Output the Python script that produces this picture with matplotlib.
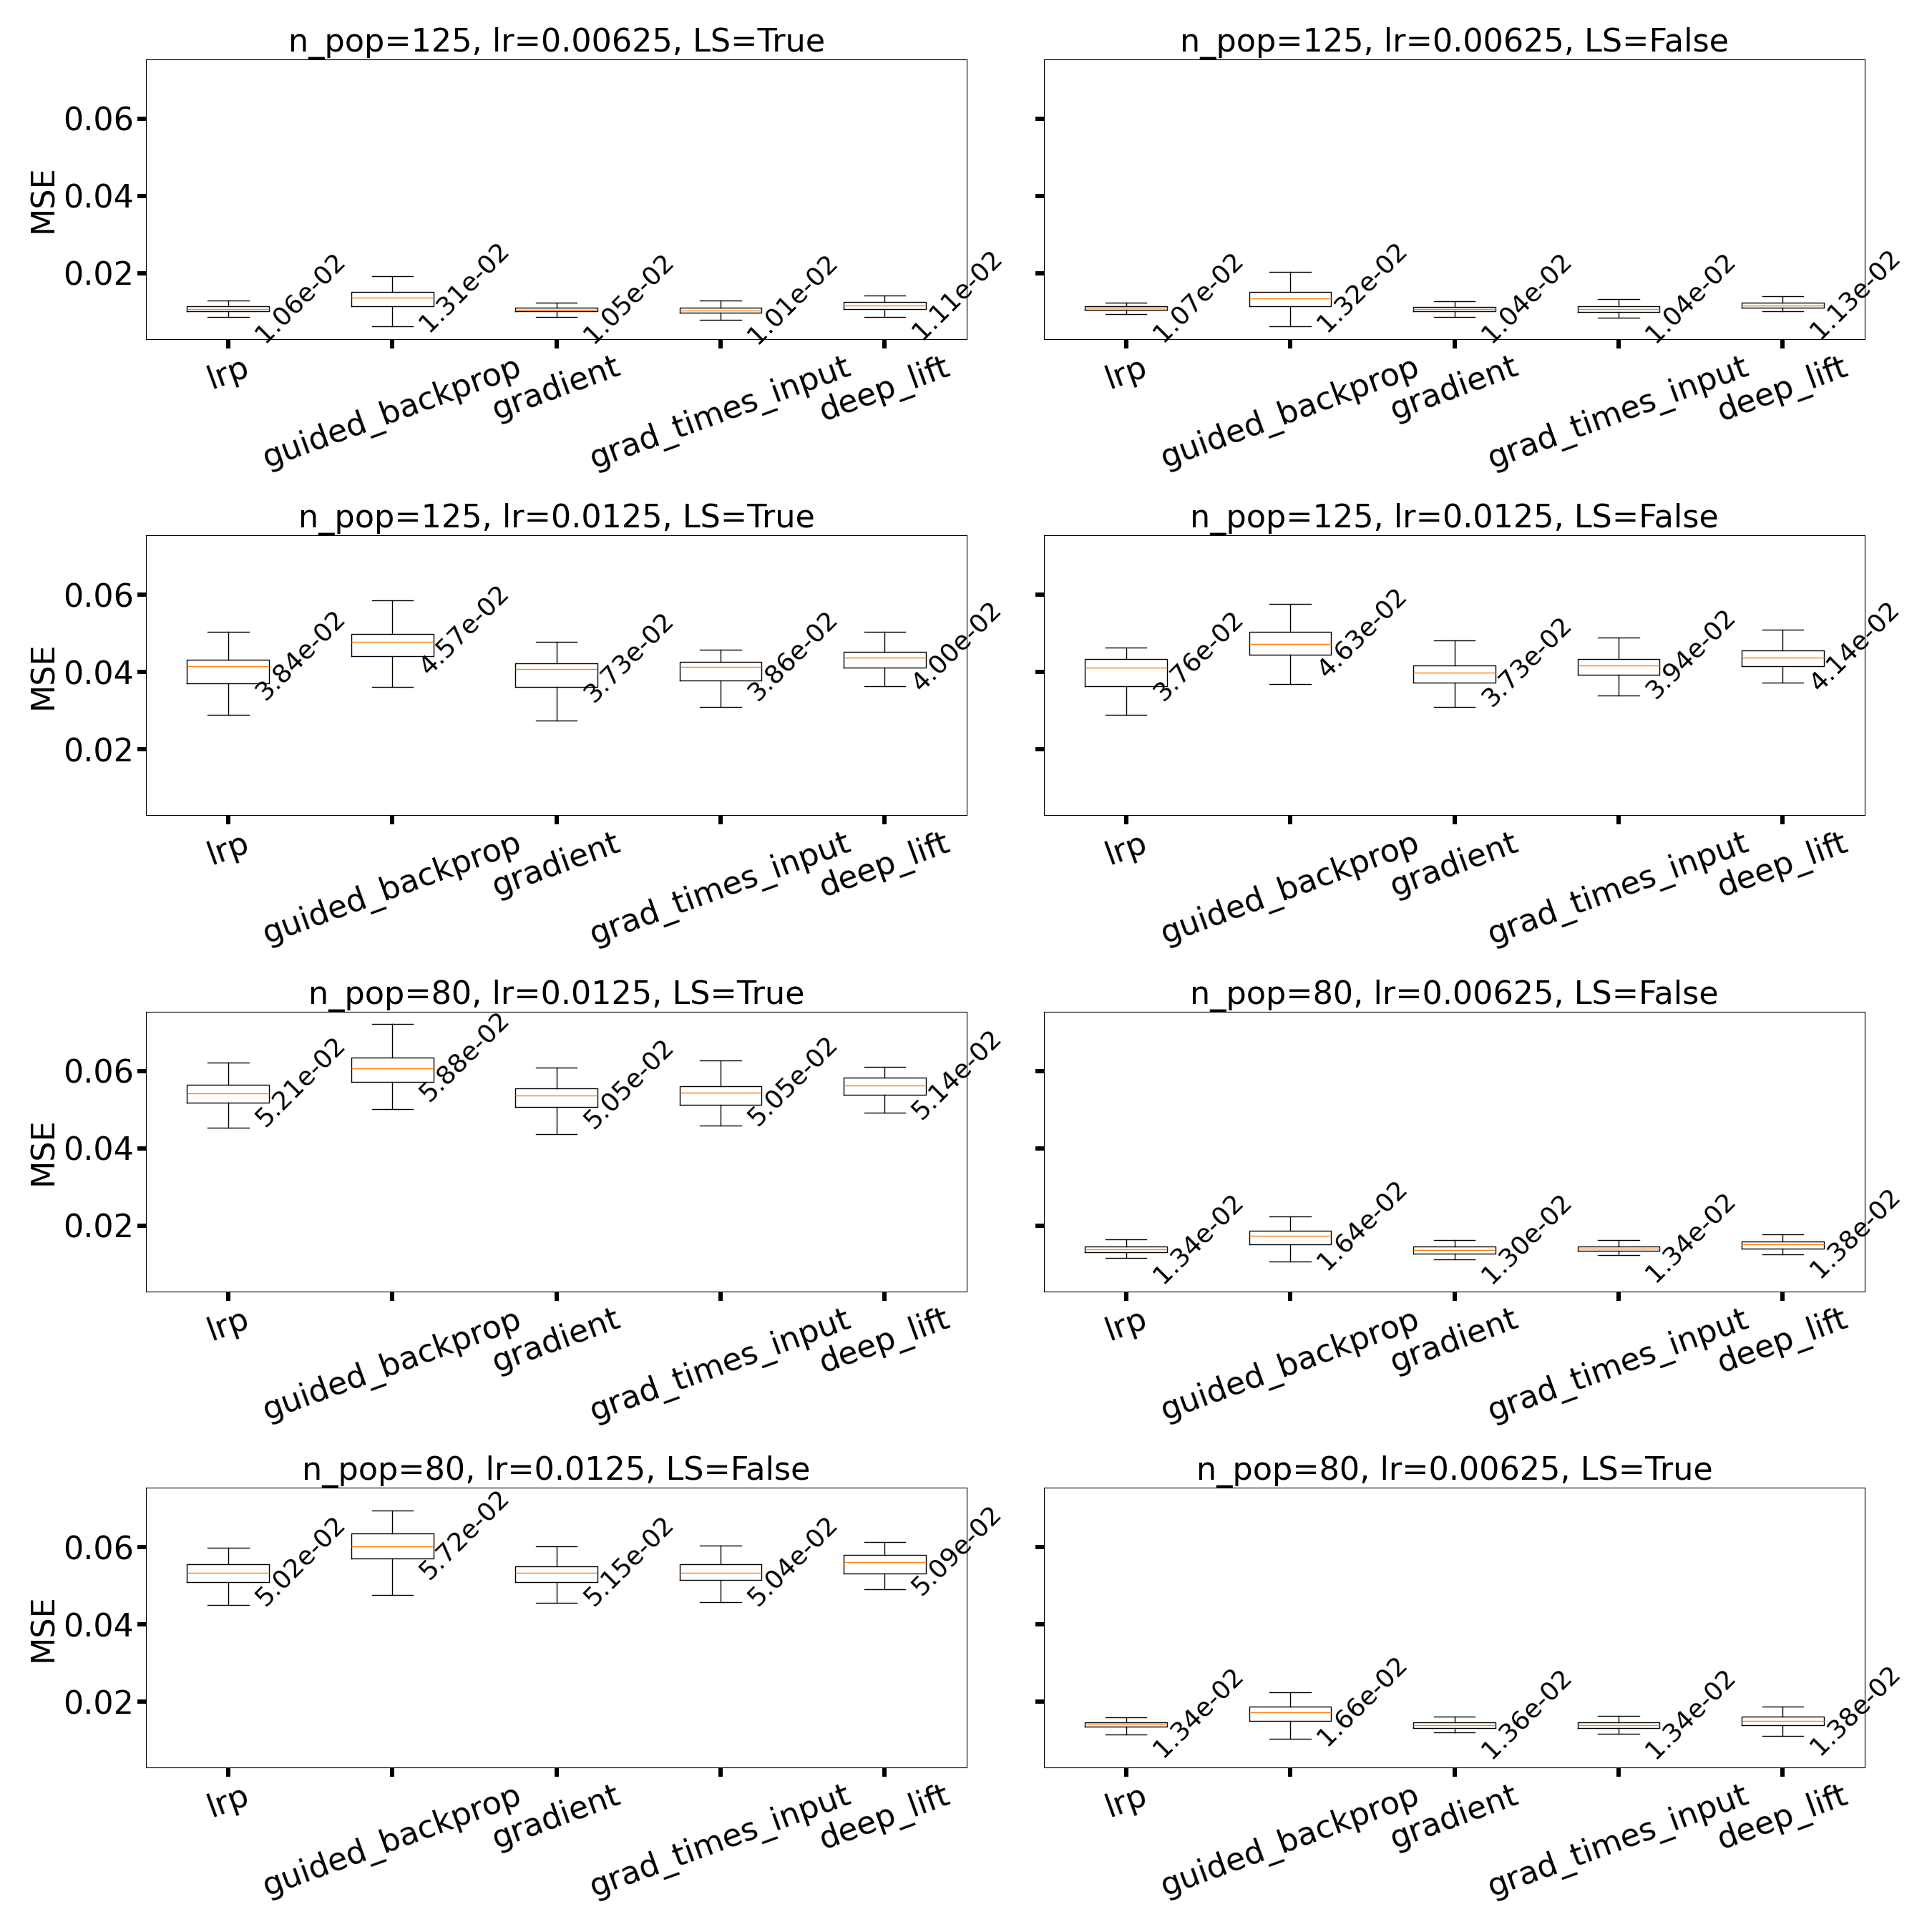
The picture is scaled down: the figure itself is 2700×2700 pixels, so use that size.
import matplotlib
matplotlib.use("Agg")
import matplotlib.pyplot as plt

methods = ["lrp", "guided_backprop", "gradient", "grad_times_input", "deep_lift"]

titles = [
    "n_pop=125, lr=0.00625, LS=True", "n_pop=125, lr=0.00625, LS=False",
    "n_pop=125, lr=0.0125, LS=True", "n_pop=125, lr=0.0125, LS=False",
    "n_pop=80, lr=0.0125, LS=True", "n_pop=80, lr=0.00625, LS=False",
    "n_pop=80, lr=0.0125, LS=False", "n_pop=80, lr=0.00625, LS=True",
]

# box stats per panel (rows: panels, cols: methods)
whis_hi = [
    [0.0130, 0.0193, 0.0124, 0.0130, 0.0142],
    [0.0123, 0.0204, 0.0128, 0.0133, 0.0140],
    [0.0505, 0.0586, 0.0479, 0.0458, 0.0505],
    [0.0463, 0.0576, 0.0481, 0.0490, 0.0509],
    [0.0621, 0.0721, 0.0609, 0.0627, 0.0611],
    [0.0165, 0.0224, 0.0162, 0.0162, 0.0178],
    [0.0599, 0.0695, 0.0602, 0.0603, 0.0613],
    [0.0159, 0.0224, 0.0161, 0.0164, 0.0187],
]
q3 = [
    [0.0114, 0.0151, 0.0111, 0.0111, 0.0125],
    [0.0114, 0.0152, 0.0113, 0.0114, 0.0123],
    [0.0432, 0.0499, 0.0422, 0.0426, 0.0452],
    [0.0433, 0.0505, 0.0418, 0.0433, 0.0456],
    [0.0565, 0.0634, 0.0555, 0.0560, 0.0582],
    [0.0145, 0.0187, 0.0145, 0.0145, 0.0158],
    [0.0556, 0.0635, 0.0550, 0.0556, 0.0580],
    [0.0146, 0.0188, 0.0146, 0.0146, 0.0161],
]
med = [
    [0.0107, 0.0136, 0.0106, 0.0104, 0.0116],
    [0.0110, 0.0135, 0.0108, 0.0108, 0.0117],
    [0.0415, 0.0478, 0.0408, 0.0413, 0.0437],
    [0.0412, 0.0472, 0.0398, 0.0417, 0.0437],
    [0.0542, 0.0607, 0.0537, 0.0544, 0.0562],
    [0.0138, 0.0173, 0.0137, 0.0141, 0.0152],
    [0.0534, 0.0602, 0.0534, 0.0534, 0.0561],
    [0.0143, 0.0173, 0.0140, 0.0140, 0.0150],
]
q1 = [
    [0.0101, 0.0114, 0.0101, 0.0097, 0.0107],
    [0.0106, 0.0115, 0.0102, 0.0100, 0.0111],
    [0.0371, 0.0441, 0.0361, 0.0378, 0.0411],
    [0.0363, 0.0445, 0.0372, 0.0393, 0.0415],
    [0.0518, 0.0572, 0.0507, 0.0513, 0.0539],
    [0.0131, 0.0152, 0.0128, 0.0134, 0.0141],
    [0.0510, 0.0570, 0.0510, 0.0515, 0.0532],
    [0.0135, 0.0150, 0.0132, 0.0132, 0.0140],
]
whis_lo = [
    [0.0087, 0.0063, 0.0087, 0.0079, 0.0086],
    [0.0094, 0.0063, 0.0086, 0.0084, 0.0101],
    [0.0290, 0.0361, 0.0275, 0.0310, 0.0363],
    [0.0290, 0.0369, 0.0310, 0.0340, 0.0373],
    [0.0454, 0.0501, 0.0437, 0.0459, 0.0492],
    [0.0117, 0.0107, 0.0113, 0.0124, 0.0125],
    [0.0451, 0.0477, 0.0455, 0.0458, 0.0491],
    [0.0115, 0.0105, 0.0121, 0.0117, 0.0111],
]
# annotated mean values
means = [
    [1.06e-02, 1.31e-02, 1.05e-02, 1.01e-02, 1.11e-02],
    [1.07e-02, 1.32e-02, 1.04e-02, 1.04e-02, 1.13e-02],
    [3.84e-02, 4.57e-02, 3.73e-02, 3.86e-02, 4.00e-02],
    [3.76e-02, 4.63e-02, 3.73e-02, 3.94e-02, 4.14e-02],
    [5.21e-02, 5.88e-02, 5.05e-02, 5.05e-02, 5.14e-02],
    [1.34e-02, 1.64e-02, 1.30e-02, 1.34e-02, 1.38e-02],
    [5.02e-02, 5.72e-02, 5.15e-02, 5.04e-02, 5.09e-02],
    [1.34e-02, 1.66e-02, 1.36e-02, 1.34e-02, 1.38e-02],
]

fig, axes = plt.subplots(4, 2, figsize=(27, 27), dpi=100, sharey=True)
fig.subplots_adjust(left=0.0756, right=0.9652, top=0.9694, bottom=0.0852,
                    wspace=0.094, hspace=0.702)

for k, ax in enumerate(axes.flat):
    stats = []
    for j, m in enumerate(methods):
        stats.append(dict(label=m, whislo=whis_lo[k][j], q1=q1[k][j], med=med[k][j],
                          q3=q3[k][j], whishi=whis_hi[k][j], fliers=[]))
    ax.bxp(stats, showfliers=False)

    # mean value written next to each box
    for j in range(len(methods)):
        ax.text(j + 1 + 0.44, med[k][j] + 0.003, f"{means[k][j]:.2e}",
                rotation=45, ha="center", va="center", fontsize=26)

    ax.set_title(titles[k], fontsize=32)
    ax.set_yticks([0.02, 0.04, 0.06])
    ax.tick_params(axis="both", labelsize=32, length=9, width=4.3, direction="out")
    ax.tick_params(axis="x", labelrotation=20)
    for s in ax.spines.values():
        s.set_linewidth(0.8)
    if k % 2 == 0:
        ax.set_ylabel("MSE", fontsize=32)

fig.savefig("out.png", dpi=100)
